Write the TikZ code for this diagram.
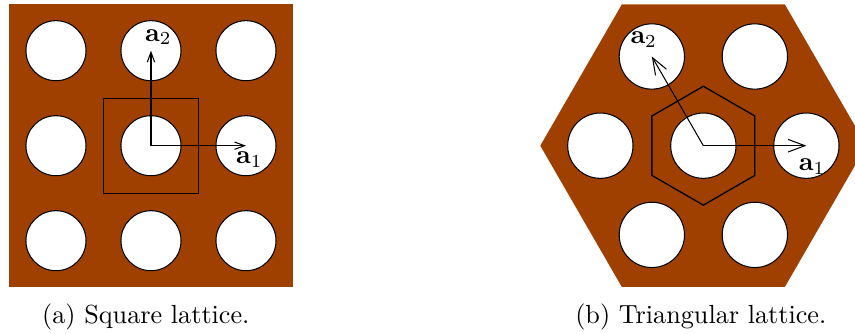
\documentclass[tikz,border=0pt]{standalone}
\usepackage{amsmath,amssymb}
\usetikzlibrary{arrows.meta}
\definecolor{latbrown}{RGB}{160,64,0}

\begin{document}
\begin{tikzpicture}[every node/.style={font=\normalsize}]
	\useasboundingbox (0,0) rectangle (11.479,4.484);
	% (a) square lattice
	\begin{scope}[shift={(2.027,2.528)}, x=1.2755cm, y=1.2755cm, >={Straight Barb[length=3.8pt,width=2.8pt]}]
		\fill[latbrown] (-1.49,-1.49) rectangle (1.49,1.49);
		\foreach \i in {-1,0,1} {\foreach \j in {-1,0,1} {\draw[fill=white, line width=0.4pt] (\i,\j) circle (0.316);}}
		\draw[line width=0.5pt] (-0.5,-0.5) rectangle (0.5,0.5);
		\coordinate (sqO) at (0,0);
		\coordinate (sqA1) at (1,0);
		\coordinate (sqA2) at (0,1);
		\draw[->] (sqO) -- (sqA1);
		\draw[->] (sqO) -- (sqA2);
		\node[below, xshift=1.3pt, inner sep=2.3pt] (sqLabA1) at (sqA1) {$\mathbf{a}_1$};
		\node[above, xshift=2.8pt, inner sep=2pt] (sqLabA2) at (sqA2) {$\mathbf{a}_2$};
	\end{scope}
	% (b) triangular lattice
	\begin{scope}[shift={(9.443,2.528)}, x=1.383cm, y=1.383cm, >={Straight Barb[length=6.4pt,width=4.8pt]}]
		\fill[latbrown] (0:1.583) \foreach \a in {60,120,...,300} {-- (\a:1.583)} -- cycle;
		\draw[fill=white, line width=0.4pt] (0,0) circle (0.317);
		\foreach \a in {0,60,...,300} {\draw[fill=white, line width=0.4pt] (\a:1) circle (0.317);}
		\draw[line width=0.5pt] (30:0.577) \foreach \a in {90,150,...,330} {-- (\a:0.577)} -- cycle;
		\coordinate (trO) at (0,0);
		\coordinate (trA1) at (0:1);
		\coordinate (trA2) at (120:1);
		\draw[->] (trO) -- (trA1);
		\draw[->] (trO) -- (trA2);
		\node[below, xshift=2.2pt, inner sep=4.8pt] (trLabA1) at (trA1) {$\mathbf{a}_1$};
		\node[above, xshift=-3.1pt, inner sep=3.1pt] (trLabA2) at (trA2) {$\mathbf{a}_2$};
	\end{scope}
	% captions
	\node[anchor=base] (capA) at (1.958,0.14) {(a) Square lattice.};
	\node[anchor=base] (capB) at (9.409,0.14) {(b) Triangular lattice.};
\end{tikzpicture}
\end{document}
